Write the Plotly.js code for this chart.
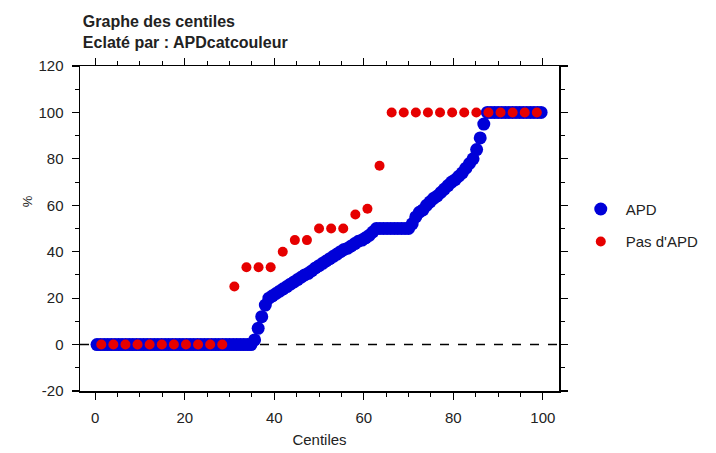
<!DOCTYPE html>
<html>
<head>
<meta charset="utf-8">
<script src="https://cdn.plot.ly/plotly-3.0.1.min.js"></script>
<style>html,body{margin:0;padding:0;background:#fff;}#chart{width:716px;height:453px;}</style>
</head>
<body>
<div id="chart"></div>
<script>
// APD group: 125 observations, centile of each ordered value
var apdCount = 125;
var apdValues = [
  0,0,0,0,0,0,0,0,0,0,
  0,0,0,0,0,0,0,0,0,0,
  0,0,0,0,0,0,0,0,0,0,
  0,0,0,0,0,0,0,0,0,0,
  0,0,0,0,2,7,12,17,20,21,
  22,23,24,25,26,27,28,29,30,30.7,
  31.8,33,34,35,36,37,38,39,40,41,
  41.5,42.5,43.5,44.5,45,46,47,48.5,50,50,
  50,50,50,50,50,50,50,50,52,55,
  57,58,60,61.5,63,64,65.5,67,68.5,70,
  71,72.5,74,76,78,80,84,89,95,100,
  100,100,100,100,100,100,100,100,100,100,
  100,100,100,100,100
];
// Pas d'APD group: 37 observations
var noApdCount = 37;
var noApdValues = [
  0,0,0,0,0,0,0,0,0,0,
  0,25,33.3,33.3,33.3,40,45,45,50,50,
  50,56,58.5,77,100,100,100,100,100,100,
  100,100,100,100,100,100,100
];
var seriesNames = ["APD", "Pas d'APD"];
var seriesColors = ["#0000d8", "#e60000"];
var yTicks = [-20, 0, 20, 40, 60, 80, 100, 120];
var xTicks = [0, 20, 40, 60, 80, 100];

function centiles(n) {
  var out = [];
  for (var i = 0; i < n; i++) out.push((i + 0.5) / n * 100);
  return out;
}

var traces = [
  {
    x: centiles(apdCount), y: apdValues, name: seriesNames[0],
    type: 'scatter', mode: 'markers', legendgroup: 'a',
    marker: {color: seriesColors[0], size: 13, line: {width: 0}}
  },
  {
    x: centiles(noApdCount), y: noApdValues, name: seriesNames[1],
    type: 'scatter', mode: 'markers', legendgroup: 'b',
    marker: {color: seriesColors[1], size: 10, line: {width: 0}}
  }
];

var fontFam = 'Liberation Sans, Arial, sans-serif';
var axisCommon = {
  showline: true, linecolor: '#000', linewidth: 1.5, mirror: 'allticks',
  ticks: 'outside', ticklen: 7, tickwidth: 1.2, tickcolor: '#000',
  showgrid: false, zeroline: false, ticklabelstandoff: 5,
  tickfont: {family: fontFam, size: 15, color: '#222'}
};

var layout = {
  width: 716, height: 453,
  margin: {l: 80, r: 147, t: 66, b: 62},
  paper_bgcolor: '#fff', plot_bgcolor: '#fff',
  showlegend: true,
  title: {
    text: 'Graphe des centiles<br>Eclaté par : APDcatcouleur',
    font: {family: fontFam, size: 16, color: '#222', weight: 'bold'},
    xref: 'paper', x: 0.006, xanchor: 'left',
    yref: 'container', y: 0.94, yanchor: 'top'
  },
  xaxis: Object.assign({}, axisCommon, {
    range: [-3.4, 103.6], tickvals: xTicks, ticktext: xTicks.map(String),
    minor: {dtick: 5, tick0: 0, ticks: 'outside', ticklen: 4, tickcolor: '#000', tickwidth: 1},
    title: {text: 'Centiles', standoff: 10, font: {family: fontFam, size: 15, color: '#222'}}
  }),
  yaxis: Object.assign({}, axisCommon, {
    range: [-20, 120], tickvals: yTicks, ticktext: yTicks.map(String),
    minor: {dtick: 10, tick0: 0, ticks: 'outside', ticklen: 4, tickcolor: '#000', tickwidth: 1}
  }),
  annotations: [{
    text: '%', xref: 'paper', x: -0.108, xanchor: 'center',
    yref: 'paper', y: 0.585, yanchor: 'middle', textangle: -90, showarrow: false,
    font: {family: fontFam, size: 13, color: '#222'}
  }],
  legend: {
    x: 1.035, xanchor: 'left', y: 0.61, yanchor: 'top',
    font: {family: fontFam, size: 15, color: '#222'},
    traceorder: 'grouped', tracegroupgap: 10, itemwidth: 40,
    bgcolor: 'rgba(0,0,0,0)'
  },
  shapes: [{
    type: 'line', xref: 'paper', x0: 0, x1: 1, yref: 'y', y0: 0, y1: 0,
    line: {color: '#000', width: 1.5, dash: 'dash'}, layer: 'below'
  }]
};

Plotly.newPlot('chart', traces, layout, {displayModeBar: false, staticPlot: true});
</script>
</body>
</html>
